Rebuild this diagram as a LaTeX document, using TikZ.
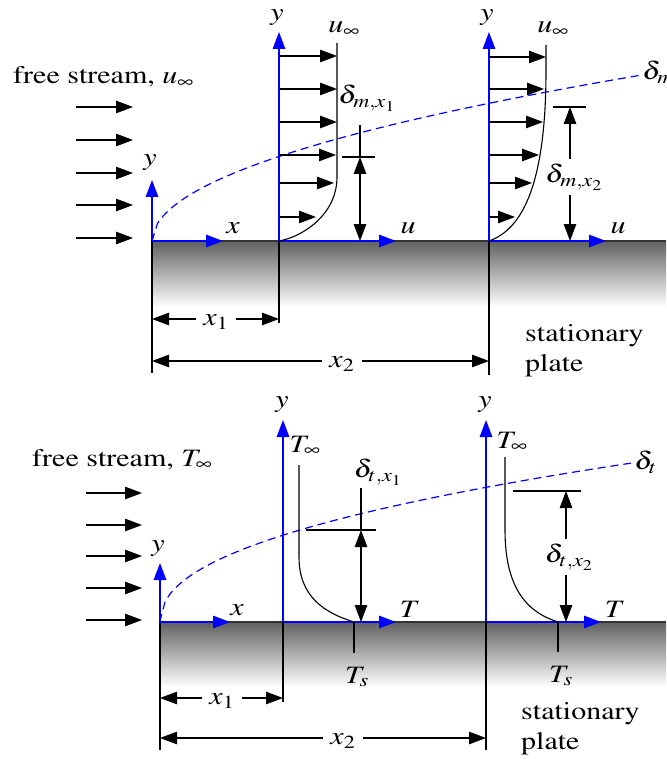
\documentclass[tikz,border=0pt]{standalone}
\usepackage[T1]{fontenc}
\usepackage{mathptmx}
\usetikzlibrary{arrows.meta,calc,positioning}
\definecolor{plategray}{gray}{0.38}
\tikzset{
  axis/.style={blue,line width=1.4pt,-{Triangle[length=17pt,width=12.5pt]}},
  vel/.style={black,line width=1.1pt,-{Triangle[length=17pt,width=12.5pt]}},
  dimarrow/.style={black,line width=1.1pt,{Triangle[length=17pt,width=12.5pt]}-{Triangle[length=17pt,width=12.5pt]}},
  thinline/.style={black,line width=1.1pt},
  layer/.style={blue,line width=1.2pt,dash pattern=on 8pt off 5pt},
  lbl/.style={inner sep=1pt},
}

\begin{document}
\begin{tikzpicture}[x=1pt,y=-1pt,every node/.style={font=\fontsize{25}{30}\selectfont,xscale=1.2}]
          \useasboundingbox (0,0) rectangle (666,759);
          % ===== velocity boundary layer =====
          % Draw the plate
          \shade[top color=plategray,bottom color=white] (152,241) rectangle (666,307);
          \draw[line width=1.2pt,black!80] (152,241) -- (666,241);
          \draw[thinline] (152,241) -- (152,373);
          % Free stream arrows
          \node[anchor=base west,inner sep=0] (fsu) at (13,84) {free stream, $u_\infty$};
          \foreach \yy in {107,140,173,205,238}
            \draw[vel] (76,\yy) -- (133,\yy);
          % Axes at the leading edge
          \coordinate (ou) at (152,241);
          \node[lbl] (yu0) at (150,163) {$y$};
          \node[lbl] (xu0) at (233,228) {$x$};
          \draw[axis] (ou) -- (152,180);
          \draw[axis] (ou) -- (223,241);
          % Label the boundary layer edge
          \draw[layer] plot[domain=0:489,samples=90] ({152+\x},{241-7.5*sqrt(\x)});
          \node[lbl,anchor=west] (dm) at (641,72) {$\delta_m$};
          % Profile at x_1
          \coordinate (ou1) at (279,241);
          \node[lbl] (yu1) at (277,18) {$y$};
          \node[lbl] (ui1) at (344,29) {$u_\infty$};
          \draw[axis] (ou1) -- (279,32);
          \draw[axis] (ou1) -- (396,241);
          \node[lbl] (uu1) at (408,228) {$u$};
          \draw[thinline] (337,43) -- (337,177) .. controls (337,215) and (302,237) .. (ou1);
          \draw[vel] (279,56) -- (337,56);
          \draw[vel] (279,89) -- (337,89);
          \draw[vel] (279,122) -- (337,122);
          \draw[vel] (279,155) -- (336,155);
          \draw[vel] (279,183) -- (334,183);
          \draw[vel] (279,217) -- (316,217);
          \draw[thinline] (ou1) -- (279,323);
          % Thickness at x_1
          \coordinate (tm1) at (360,157);
          \coordinate (pm1) at (360,241);
          \draw[thinline] (342,157) -- (375,157);
          \node[lbl] (dm1) at (367,98) {$\delta_{m,x_1}$};
          \draw[thinline] (360,125) -- (tm1);
          \draw[dimarrow] (tm1) -- (pm1);
          % Profile at x_2
          \coordinate (ou2) at (489,241);
          \node[lbl] (yu2) at (487,18) {$y$};
          \node[lbl] (ui2) at (553,29) {$u_\infty$};
          \draw[axis] (ou2) -- (489,32);
          \draw[axis] (ou2) -- (606,241);
          \node[lbl] (uu2) at (618,228) {$u$};
          \draw[thinline] (546,45) -- (546,70) .. controls (546,190) and (520,230) .. (ou2);
          \draw[vel] (489,57) -- (546,57);
          \draw[vel] (489,89) -- (544,89);
          \draw[vel] (489,122) -- (543,122);
          \draw[vel] (489,155) -- (539,155);
          \draw[vel] (489,183) -- (532,183);
          \draw[vel] (489,217) -- (515,217);
          \draw[thinline] (ou2) -- (489,375);
          % Thickness at x_2
          \coordinate (tm2) at (570,107);
          \coordinate (pm2) at (570,241);
          \draw[thinline] (553,107) -- (586,107);
          \node[lbl,inner ysep=5pt] (dm2) at (574,177) {$\delta_{m,x_2}$};
          \draw[vel] (dm2.north -| tm2) -- (tm2);
          \draw[vel] (dm2.south -| pm2) -- (pm2);
          % Distances along the plate
          \coordinate (xa1) at (152,319);
          \coordinate (xb1) at (279,319);
          \node[lbl,inner xsep=6pt] (xu1) at (216,322) {$x_1$};
          \draw[vel] (xu1.west |- xa1) -- (xa1);
          \draw[vel] (xu1.east |- xb1) -- (xb1);
          \coordinate (xa2) at (152,361);
          \coordinate (xb2) at (489,361);
          \node[lbl,inner xsep=6pt] (xu2) at (342,364) {$x_2$};
          \draw[vel] (xu2.west |- xa2) -- (xa2);
          \draw[vel] (xu2.east |- xb2) -- (xb2);
          \node[anchor=north west,align=left,inner sep=0] (spu) at (525,324) {stationary\\plate};
          % ===== thermal boundary layer =====
          % Draw the plate
          \shade[top color=plategray,bottom color=white] (160,622) rectangle (666,687);
          \draw[line width=1.2pt,black!80] (160,622) -- (666,622);
          \draw[thinline] (160,622) -- (160,750);
          % Free stream arrows
          \node[anchor=base west,inner sep=0] (fst) at (32,466) {free stream, $T_\infty$};
          \foreach \yy in {493,525,556,588,620}
            \draw[vel] (86,\yy) -- (142,\yy);
          % Axes at the leading edge
          \coordinate (ot) at (160,622);
          \node[lbl] (yt0) at (158,549) {$y$};
          \node[lbl] (xt0) at (237,610) {$x$};
          \draw[axis] (ot) -- (160,563);
          \draw[axis] (ot) -- (230,622);
          % Label the boundary layer edge
          \draw[layer] (ot) -- plot[domain=0.01:471,samples=90] ({160+\x},{622-9.96*(\x)^0.45});
          \node[lbl,anchor=west] (dt) at (633,462) {$\delta_t$};
          % Profile at x_1
          \coordinate (ot1) at (283,622);
          \node[lbl] (yt1) at (282,405) {$y$};
          \node[lbl] (ti1) at (305,446) {$T_\infty$};
          \draw[axis] (ot1) -- (283,420);
          \draw[axis] (ot1) -- (396,622);
          \node[lbl] (tt1) at (410,609) {$T$};
          \coordinate (ts1) at (354,622);
          \draw[thinline] (299,465) -- (299,557) .. controls (299,597) and (325,613) .. (ts1);
          \draw[thinline] (ot1) -- (283,702);
          \node[lbl] (tsl1) at (357,677) {$T_s$};
          \draw[thinline] (ts1) -- (354,653);
          % Thickness at x_1
          \coordinate (tt1a) at (361,530);
          \coordinate (pt1) at (361,622);
          \draw[thinline] (306,530) -- (376,530);
          \node[lbl] (dt1) at (378,472) {$\delta_{t,x_1}$};
          \draw[thinline] (361,488) -- (tt1a);
          \draw[dimarrow] (tt1a) -- (pt1);
          % Profile at x_2
          \coordinate (ot2) at (486,622);
          \node[lbl] (yt2) at (485,405) {$y$};
          \node[lbl] (ti2) at (512,442) {$T_\infty$};
          \draw[axis] (ot2) -- (486,420);
          \draw[axis] (ot2) -- (601,622);
          \node[lbl] (tt2) at (615,609) {$T$};
          \coordinate (ts2) at (558,622);
          \draw[thinline] (505,457) -- (505,530) .. controls (505,592) and (530,613) .. (ts2);
          \draw[thinline] (ot2) -- (486,750);
          \node[lbl] (tsl2) at (561,676) {$T_s$};
          \draw[thinline] (ts2) -- (558,652);
          % Thickness at x_2
          \coordinate (tt2a) at (566,491);
          \coordinate (pt2) at (566,622);
          \draw[thinline] (513,491) -- (581,491);
          \node[lbl,inner ysep=5pt] (dt2) at (569,557) {$\delta_{t,x_2}$};
          \draw[vel] (dt2.north -| tt2a) -- (tt2a);
          \draw[vel] (dt2.south -| pt2) -- (pt2);
          % Distances along the plate
          \coordinate (xa3) at (160,698);
          \coordinate (xb3) at (283,698);
          \node[lbl,inner xsep=6pt] (xt1) at (222,701) {$x_1$};
          \draw[vel] (xt1.west |- xa3) -- (xa3);
          \draw[vel] (xt1.east |- xb3) -- (xb3);
          \coordinate (xa4) at (160,738);
          \coordinate (xb4) at (486,738);
          \node[lbl,inner xsep=6pt] (xt2) at (343,741) {$x_2$};
          \draw[vel] (xt2.west |- xa4) -- (xa4);
          \draw[vel] (xt2.east |- xb4) -- (xb4);
          \node[anchor=north west,align=left,inner sep=0] (spt) at (521,702) {stationary\\plate};
        \end{tikzpicture}
\end{document}
